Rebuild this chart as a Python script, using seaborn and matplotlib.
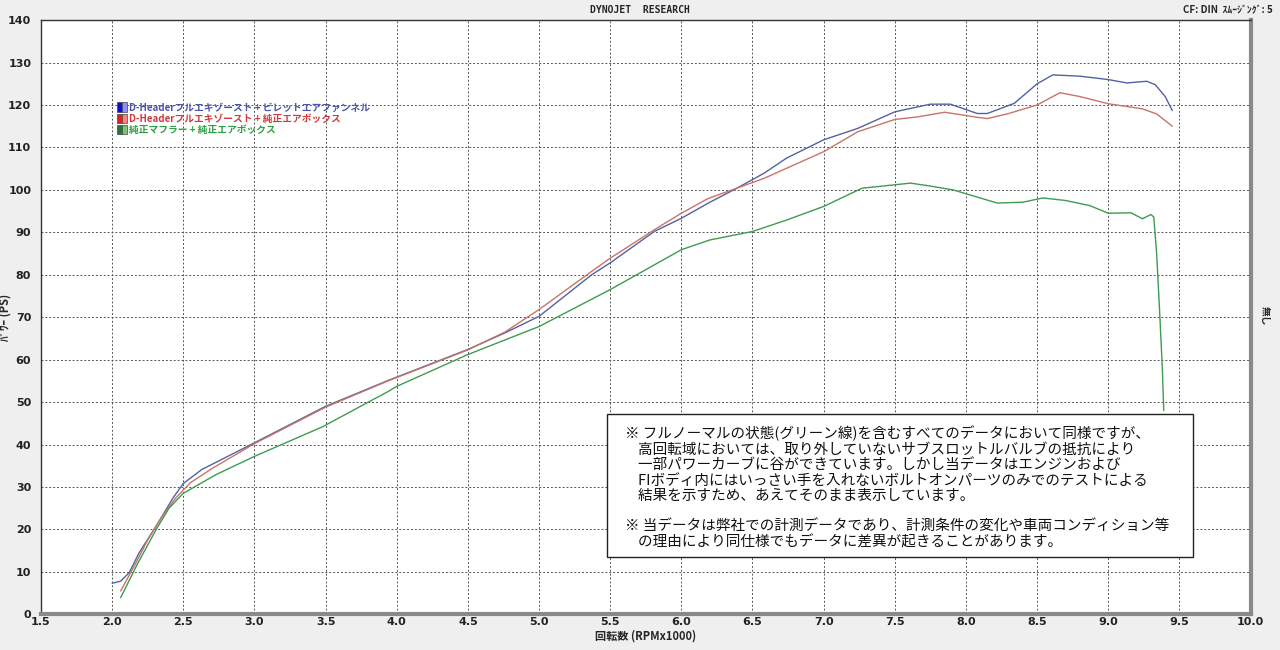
import numpy as np
import pandas as pd
import matplotlib
matplotlib.use("Agg")
import matplotlib.pyplot as plt
from matplotlib.patches import Patch, Rectangle
from matplotlib.legend_handler import HandlerTuple
from matplotlib.ticker import MultipleLocator
import seaborn as sns

# --- data (rpm x1000, PS) ---
rpm_blue = [2.00, 2.06, 2.12, 2.19, 2.31, 2.43, 2.50, 2.63, 3.00, 3.50, 3.94, 4.50, 4.76, 5.00,
            5.37, 5.50, 5.81, 6.00, 6.19, 6.39, 6.58, 6.74, 7.00, 7.24, 7.50, 7.75, 7.89, 8.08,
            8.15, 8.34, 8.50, 8.61, 8.80, 9.00, 9.13, 9.27, 9.33, 9.40, 9.45]
ps_blue = [7.3, 7.8, 9.8, 14.5, 20.8, 27.5, 30.8, 34.1, 40.4, 49.0, 55.1, 62.4, 66.3, 70.2,
           80.0, 82.8, 90.2, 93.3, 96.9, 100.4, 103.9, 107.5, 111.8, 114.5, 118.4, 120.2, 120.2, 118.0,
           118.0, 120.4, 125.0, 127.1, 126.8, 126.0, 125.2, 125.6, 124.8, 122.0, 118.7]

rpm_red = [2.06, 2.15, 2.25, 2.35, 2.45, 2.55, 2.70, 3.00, 3.50, 3.94, 4.50, 4.76, 5.00, 5.37,
           5.50, 5.81, 6.00, 6.19, 6.39, 6.58, 7.00, 7.24, 7.50, 7.66, 7.85, 8.08, 8.15, 8.30,
           8.50, 8.66, 8.80, 9.00, 9.24, 9.34, 9.45]
ps_red = [5.5, 11.0, 17.5, 23.0, 27.5, 31.0, 34.3, 40.2, 48.8, 55.0, 62.3, 66.5, 71.8, 80.8,
          83.9, 90.6, 94.5, 98.0, 100.4, 102.7, 109.0, 113.7, 116.6, 117.2, 118.3, 117.1, 116.8, 118.0,
          120.0, 122.9, 122.0, 120.3, 119.1, 117.9, 115.0]

rpm_green = [2.06, 2.18, 2.31, 2.40, 2.50, 2.73, 3.00, 3.48, 3.94, 4.00, 4.50, 5.00, 5.50, 6.00,
             6.20, 6.50, 6.74, 7.00, 7.27, 7.50, 7.61, 7.75, 7.91, 8.08, 8.22, 8.40, 8.54, 8.70,
             8.87, 9.00, 9.16, 9.24, 9.30, 9.32, 9.34, 9.36, 9.38, 9.39]
ps_green = [3.9, 12.0, 20.0, 25.0, 28.5, 32.9, 37.2, 44.2, 52.5, 53.7, 61.2, 67.8, 76.5, 85.9,
            88.2, 90.2, 92.9, 96.1, 100.4, 101.2, 101.6, 100.9, 100.0, 98.3, 96.9, 97.1, 98.1, 97.5,
            96.3, 94.5, 94.6, 93.2, 94.2, 93.6, 85.0, 72.0, 58.0, 48.0]

labels = ["D-Headerフルエキゾースト + ビレットエアファンネル",
          "D-Headerフルエキゾースト + 純正エアボックス",
          "純正マフラー + 純正エアボックス"]
line_colors = ["#5262a0", "#c8736a", "#3f9a52"]
text_colors = ["#4a55a8", "#d03a3a", "#2fa045"]
dark_sq = ["#1010d0", "#e02020", "#207a30"]
light_sq = ["#9090ff", "#ff8080", "#80c080"]

note = ("※ フルノーマルの状態(グリーン線)を含むすべてのデータにおいて同様ですが、\n"
        "    高回転域においては、取り外していないサブスロットルバルブの抵抗により\n"
        "    一部パワーカーブに谷ができています。しかし当データはエンジンおよび\n"
        "    FIボディ内にはいっさい手を入れないボルトオンパーツのみでのテストによる\n"
        "    結果を示すため、あえてそのまま表示しています。\n"
        "\n"
        "※ 当データは弊社での計測データであり、計測条件の変化や車両コンディション等\n"
        "    の理由により同仕様でもデータに差異が起きることがあります。")

df = pd.concat([
    pd.DataFrame({"rpm": rpm_blue, "ps": ps_blue, "run": labels[0]}),
    pd.DataFrame({"rpm": rpm_red, "ps": ps_red, "run": labels[1]}),
    pd.DataFrame({"rpm": rpm_green, "ps": ps_green, "run": labels[2]}),
])

sns.set_style("white")
plt.rcParams['font.family'] = ['Noto Sans CJK JP', 'DejaVu Sans']

fig = plt.figure(figsize=(12.8, 6.5), dpi=100, facecolor="#efefef")
ax = fig.add_axes([0.032, 0.055, 0.945, 0.914])
ax.set_facecolor("white")

sns.lineplot(data=df, x="rpm", y="ps", hue="run", palette=dict(zip(labels, line_colors)),
             estimator=None, sort=False, linewidth=1.0, legend=False, ax=ax)

ax.set_xlim(1.5, 10.0)
ax.set_ylim(0, 140)
ax.xaxis.set_major_locator(MultipleLocator(0.5))
ax.xaxis.set_minor_locator(MultipleLocator(0.1))
ax.yaxis.set_major_locator(MultipleLocator(10))
ax.yaxis.set_minor_locator(MultipleLocator(2))
ax.set_xticklabels([f"{v:.1f}" for v in ax.get_xticks()])
ax.set_yticklabels([f"{int(v)}" for v in ax.get_yticks()])
ax.grid(True, which="major", color="#555555", linestyle=(0, (2, 2)), linewidth=0.7)
ax.tick_params(axis="x", which="both", direction="in", labelsize=8, pad=2, colors="#222222")
ax.tick_params(axis="x", which="major", length=4)
ax.tick_params(axis="x", which="minor", length=3)
ax.tick_params(axis="y", which="both", direction="out", labelsize=8, pad=3, colors="#222222")
ax.tick_params(axis="y", which="major", length=4)
ax.tick_params(axis="y", which="minor", length=2.5)
for t in ax.get_xticklabels() + ax.get_yticklabels():
    t.set_fontweight("bold")
    t.set_family(["DejaVu Sans"])

for side in ["left", "top"]:
    ax.spines[side].set_color("#333333")
    ax.spines[side].set_linewidth(1.0)
for side in ["right", "bottom"]:
    ax.spines[side].set_color("#8a8a8a")
    ax.spines[side].set_linewidth(3.0)

ax.set_xlabel("回転数 (RPMx1000)", fontsize=8, fontweight="bold", labelpad=2)
ax.set_ylabel("ﾊﾟﾜｰ (PS)", fontsize=8, fontweight="bold")
ax.yaxis.set_label_coords(-0.024, 0.5)

handles = [(Patch(facecolor=d, edgecolor="#444444", linewidth=0.5),
            Patch(facecolor=l, edgecolor="#444444", linewidth=0.5))
           for d, l in zip(dark_sq, light_sq)]
leg = ax.legend(handles, labels, handler_map={tuple: HandlerTuple(ndivide=None, pad=0)},
                loc="upper left", bbox_to_anchor=(0.060, 0.868), frameon=False,
                fontsize=7, handlelength=1.0, handleheight=1.1, handletextpad=0.2,
                labelspacing=0.12, borderaxespad=0)
for t, c in zip(leg.get_texts(), text_colors):
    t.set_color(c)
    t.set_fontweight("bold")

# note box
fig.patches.append(Rectangle((607 / 1280, 1 - 557 / 650), (1193 - 607) / 1280, (557 - 414) / 650,
                             transform=fig.transFigure, facecolor="white", edgecolor="#222222",
                             linewidth=1.0, zorder=5))
fig.text(625 / 1280, 1 - 426 / 650, note, fontsize=10.5, va="top", ha="left",
         linespacing=1.12, color="#111111", zorder=6)

fig.text(0.5, 0.992, "DYNOJET  RESEARCH", fontsize=7, fontweight="bold", ha="center", va="top",
         family=["DejaVu Sans Mono", "DejaVu Sans"])
fig.text(0.994, 0.992, "CF: DIN  ｽﾑｰｼﾞﾝｸﾞ: 5", fontsize=7, fontweight="bold", ha="right", va="top")
fig.text(0.988, 0.515, "無し", fontsize=7, fontweight="bold", rotation=270, ha="center", va="center")

fig.savefig("out.png", dpi=100, facecolor=fig.get_facecolor())
